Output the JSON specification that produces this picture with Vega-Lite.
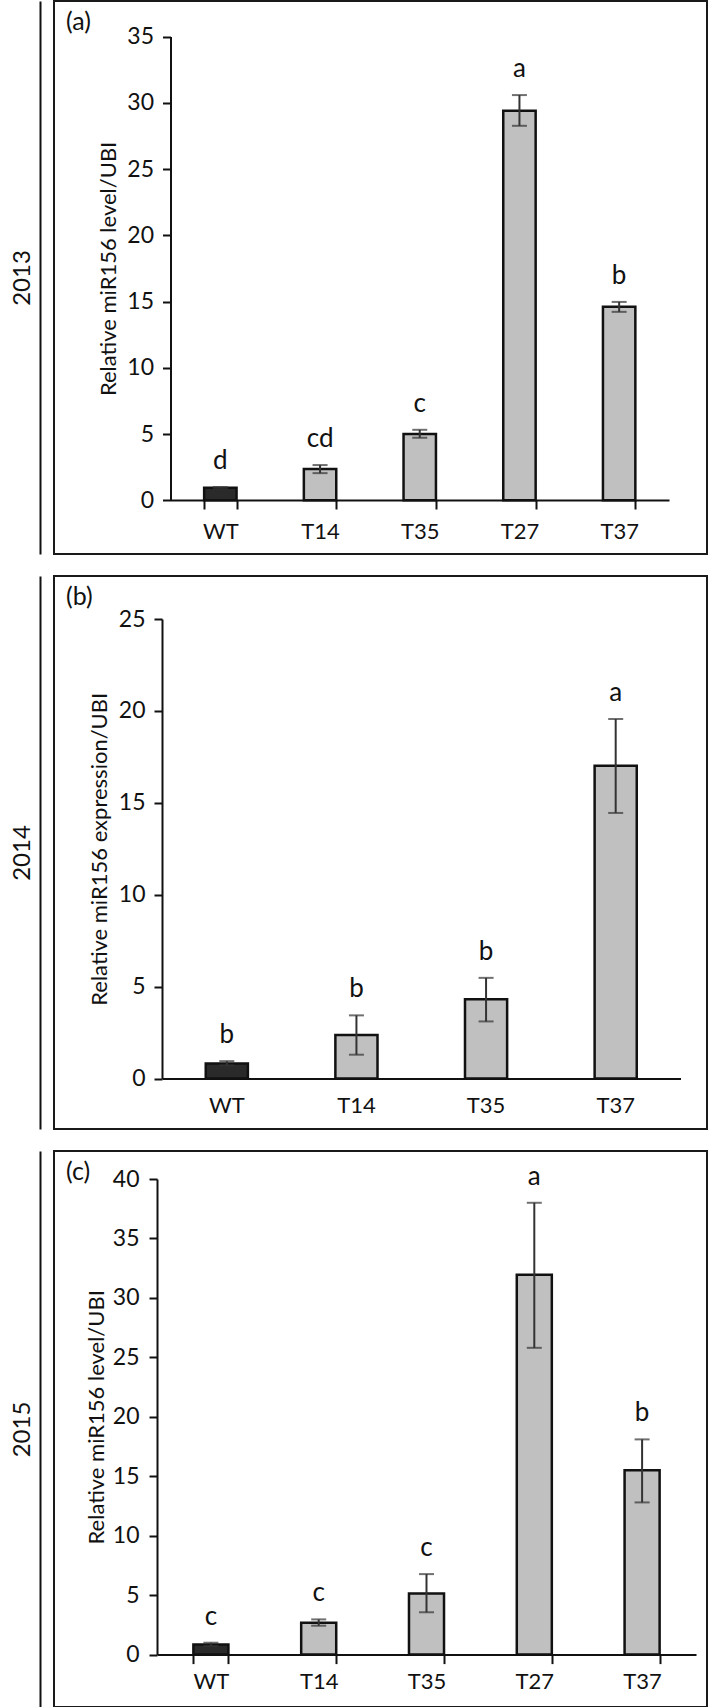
{
  "$schema": "https://vega.github.io/schema/vega-lite/v6.json",
  "background": "white",
  "padding": {"left": 9, "top": 0, "right": 0, "bottom": 0},
  "spacing": 20,
  "config": {
    "font": "Lato",
    "view": {"stroke": "#1a1a1a", "strokeWidth": 2},
    "axis": {
      "grid": false,
      "domainColor": "#111",
      "domainWidth": 2,
      "tickColor": "#111",
      "tickWidth": 2,
      "labelFont": "Lato",
      "labelFontSize": 23,
      "labelColor": "#111",
      "titleFont": "Lato",
      "titleFontSize": 22,
      "titleFontWeight": "normal",
      "titleColor": "#111",
      "labelOverlap": false,
      "labelFlush": false
    },
    "title": {"font": "Lato", "fontSize": 25, "fontWeight": "normal", "color": "#111"}
  },
  "datasets": {
    "a": [
      {"line": "WT", "kind": "control", "mean": 0.95, "lo": 0.9, "hi": 1.0, "letter": "d"},
      {"line": "T14", "kind": "transgenic", "mean": 2.36, "lo": 2.05, "hi": 2.66, "letter": "cd"},
      {"line": "T35", "kind": "transgenic", "mean": 5.0, "lo": 4.72, "hi": 5.32, "letter": "c"},
      {"line": "T27", "kind": "transgenic", "mean": 29.4, "lo": 28.26, "hi": 30.58, "letter": "a"},
      {"line": "T37", "kind": "transgenic", "mean": 14.6, "lo": 14.22, "hi": 14.97, "letter": "b"}
    ],
    "b": [
      {"line": "WT", "kind": "control", "mean": 0.82, "lo": 0.72, "hi": 0.95, "letter": "b"},
      {"line": "T14", "kind": "transgenic", "mean": 2.37, "lo": 1.3, "hi": 3.44, "letter": "b"},
      {"line": "T35", "kind": "transgenic", "mean": 4.31, "lo": 3.11, "hi": 5.48, "letter": "b"},
      {"line": "T37", "kind": "transgenic", "mean": 17.02, "lo": 14.45, "hi": 19.56, "letter": "a"}
    ],
    "c": [
      {"line": "WT", "kind": "control", "mean": 0.85, "lo": 0.72, "hi": 1.0, "letter": "c"},
      {"line": "T14", "kind": "transgenic", "mean": 2.68, "lo": 2.43, "hi": 2.96, "letter": "c"},
      {"line": "T35", "kind": "transgenic", "mean": 5.13, "lo": 3.56, "hi": 6.77, "letter": "c"},
      {"line": "T27", "kind": "transgenic", "mean": 31.94, "lo": 25.8, "hi": 38.0, "letter": "a"},
      {"line": "T37", "kind": "transgenic", "mean": 15.5, "lo": 12.8, "hi": 18.1, "letter": "b"}
    ]
  },
  "vconcat": [
    {
      "width": 653,
      "height": 553,
      "title": {"text": "(a)", "anchor": "start", "frame": "group", "offset": -34, "dx": 12},
      "data": {"name": "a"},
      "layer": [
        {
          "encoding": {
            "x": {"field": "line", "type": "nominal", "sort": null,
              "scale": {"range": [116.5, 615], "paddingInner": 0.675, "paddingOuter": 0.3375},
              "axis": {"title": null, "offset": -54, "labelAngle": 0, "labelFontSize": 22, "ticks": true, "tickBand": "extent", "tickSize": 9, "labelPadding": 12}}
          },
          "layer": [
            {
              "mark": {"type": "bar", "stroke": "#111", "strokeWidth": 2.5},
              "encoding": {
                "y": {"field": "mean", "type": "quantitative",
                  "scale": {"domain": [0, 35], "range": [499.3, 35.5], "nice": false, "zero": true},
                  "axis": {"title": "Relative miR156 level/UBI", "offset": -116.5, "values": [0, 5, 10, 15, 20, 25, 30, 35], "tickSize": 8, "labelPadding": 9, "titlePadding": 6}},
                "fill": {"field": "kind", "type": "nominal", "scale": {"domain": ["control", "transgenic"], "range": ["#2a2a2a", "#c0c0c0"]}, "legend": null}
              }
            },
            {
              "mark": {"type": "rule", "color": "#333", "strokeWidth": 2},
              "encoding": {"y": {"field": "lo", "type": "quantitative"}, "y2": {"field": "hi"}}
            },
            {
              "mark": {"type": "tick", "color": "#333", "size": 15, "thickness": 2},
              "encoding": {"y": {"field": "lo", "type": "quantitative"}}
            },
            {
              "mark": {"type": "tick", "color": "#333", "size": 15, "thickness": 2},
              "encoding": {"y": {"field": "hi", "type": "quantitative"}}
            },
            {
              "mark": {"type": "text", "dy": -18, "baseline": "alphabetic", "fontSize": 26, "color": "#111", "font": "Lato"},
              "encoding": {"y": {"field": "hi", "type": "quantitative"}, "text": {"field": "letter"}}
            }
          ]
        },
        {
          "mark": {"type": "point", "opacity": 0},
          "encoding": {
            "y": {"field": "mean", "type": "quantitative", "scale": {"domain": [0, 40], "nice": false},
              "axis": {"orient": "left", "offset": 14, "ticks": false, "labels": false, "domain": true, "domainWidth": 2, "title": "2013", "titleFontSize": 24, "titlePadding": 6}}
          }
        }
      ],
      "resolve": {"scale": {"y": "independent"}, "axis": {"y": "independent"}}
    },
    {
      "width": 653,
      "height": 553,
      "title": {"text": "(b)", "anchor": "start", "frame": "group", "offset": -34, "dx": 12},
      "data": {"name": "b"},
      "layer": [
        {
          "encoding": {
            "x": {"field": "line", "type": "nominal", "sort": null,
              "scale": {"range": [108, 626.5], "paddingInner": 0.675, "paddingOuter": 0.3375},
              "axis": {"title": null, "offset": -50.4, "labelAngle": 0, "labelFontSize": 22, "ticks": false, "tickSize": 0, "labelPadding": 17}}
          },
          "layer": [
            {
              "mark": {"type": "bar", "stroke": "#111", "strokeWidth": 2.5},
              "encoding": {
                "y": {"field": "mean", "type": "quantitative",
                  "scale": {"domain": [0, 25], "range": [502.6, 43], "nice": false, "zero": true},
                  "axis": {"title": "Relative miR156 expression/UBI", "offset": -108, "values": [0, 5, 10, 15, 20, 25], "tickSize": 8, "labelPadding": 9, "titlePadding": 7}},
                "fill": {"field": "kind", "type": "nominal", "scale": {"domain": ["control", "transgenic"], "range": ["#2a2a2a", "#c0c0c0"]}, "legend": null}
              }
            },
            {
              "mark": {"type": "rule", "color": "#333", "strokeWidth": 2},
              "encoding": {"y": {"field": "lo", "type": "quantitative"}, "y2": {"field": "hi"}}
            },
            {
              "mark": {"type": "tick", "color": "#333", "size": 15, "thickness": 2},
              "encoding": {"y": {"field": "lo", "type": "quantitative"}}
            },
            {
              "mark": {"type": "tick", "color": "#333", "size": 15, "thickness": 2},
              "encoding": {"y": {"field": "hi", "type": "quantitative"}}
            },
            {
              "mark": {"type": "text", "dy": -18, "baseline": "alphabetic", "fontSize": 26, "color": "#111", "font": "Lato"},
              "encoding": {"y": {"field": "hi", "type": "quantitative"}, "text": {"field": "letter"}}
            }
          ]
        },
        {
          "mark": {"type": "point", "opacity": 0},
          "encoding": {
            "y": {"field": "mean", "type": "quantitative", "scale": {"domain": [0, 40], "nice": false},
              "axis": {"orient": "left", "offset": 14, "ticks": false, "labels": false, "domain": true, "domainWidth": 2, "title": "2014", "titleFontSize": 24, "titlePadding": 6}}
          }
        }
      ],
      "resolve": {"scale": {"y": "independent"}, "axis": {"y": "independent"}}
    },
    {
      "width": 653,
      "height": 556,
      "title": {"text": "(c)", "anchor": "start", "frame": "group", "offset": -34, "dx": 12},
      "data": {"name": "c"},
      "layer": [
        {
          "encoding": {
            "x": {"field": "line", "type": "nominal", "sort": null,
              "scale": {"range": [103, 642], "paddingInner": 0.675, "paddingOuter": 0.3375},
              "axis": {"title": null, "offset": -52.4, "labelAngle": 0, "labelFontSize": 22, "ticks": true, "tickBand": "extent", "tickSize": 9, "labelPadding": 8}}
          },
          "layer": [
            {
              "mark": {"type": "bar", "stroke": "#111", "strokeWidth": 2.5},
              "encoding": {
                "y": {"field": "mean", "type": "quantitative",
                  "scale": {"domain": [0, 40], "range": [503.6, 28], "nice": false, "zero": true},
                  "axis": {"title": "Relative miR156 level/UBI", "offset": -103, "values": [0, 5, 10, 15, 20, 25, 30, 35, 40], "tickSize": 8, "labelPadding": 10, "titlePadding": 4}},
                "fill": {"field": "kind", "type": "nominal", "scale": {"domain": ["control", "transgenic"], "range": ["#2a2a2a", "#c0c0c0"]}, "legend": null}
              }
            },
            {
              "mark": {"type": "rule", "color": "#333", "strokeWidth": 2},
              "encoding": {"y": {"field": "lo", "type": "quantitative"}, "y2": {"field": "hi"}}
            },
            {
              "mark": {"type": "tick", "color": "#333", "size": 15, "thickness": 2},
              "encoding": {"y": {"field": "lo", "type": "quantitative"}}
            },
            {
              "mark": {"type": "tick", "color": "#333", "size": 15, "thickness": 2},
              "encoding": {"y": {"field": "hi", "type": "quantitative"}}
            },
            {
              "mark": {"type": "text", "dy": -18, "baseline": "alphabetic", "fontSize": 26, "color": "#111", "font": "Lato"},
              "encoding": {"y": {"field": "hi", "type": "quantitative"}, "text": {"field": "letter"}}
            }
          ]
        },
        {
          "mark": {"type": "point", "opacity": 0},
          "encoding": {
            "y": {"field": "mean", "type": "quantitative", "scale": {"domain": [0, 40], "nice": false},
              "axis": {"orient": "left", "offset": 14, "ticks": false, "labels": false, "domain": true, "domainWidth": 2, "title": "2015", "titleFontSize": 24, "titlePadding": 6}}
          }
        }
      ],
      "resolve": {"scale": {"y": "independent"}, "axis": {"y": "independent"}}
    }
  ]
}
